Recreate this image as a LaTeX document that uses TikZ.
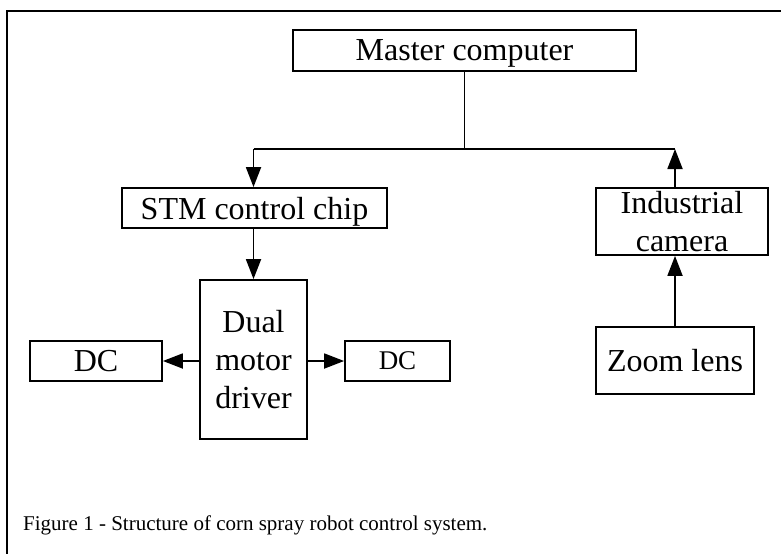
\documentclass[tikz,border=0pt]{standalone}
\usepackage{fontspec}
\setmainfont{Liberation Serif}
\usepackage{tikz}
\usetikzlibrary{positioning,arrows.meta,calc}
\newcommand{\blockarrow}{-{Triangle[length=20pt,width=15pt]}}
\tikzset{
    block/.style={draw,rectangle,line width=1.8pt,inner sep=0pt,text depth=0pt,align=center,
        font=\fontsize{32}{38}\selectfont},
    link/.style={line width=1.8pt},
}

\begin{document}
\begin{tikzpicture}[x=1pt,y=-1pt]
            \useasboundingbox (0,0) rectangle (781,554);
            \coordinate (frameTop) at (781,10.5);
            \coordinate (frameCorner) at (7,10.5);
            \coordinate (frameBottom) at (7,554);
            \draw[line width=2pt] (frameTop) -- (frameCorner) -- (frameBottom);
            \node[block,minimum width=343,minimum height=41] (master) at (464.5,50.5) {Master computer};
            \node[block,minimum width=265,minimum height=40] (stm) at (254.5,208) {STM control chip};
            \node[block,minimum width=107,minimum height=159] (dual) at (253.5,359.5) {Dual\\motor\\driver};
            \node[block,minimum width=132,minimum height=40] (dcl) at (96,361) {DC};
            \node[block,minimum width=105,minimum height=40,font=\fontsize{27}{32}\selectfont] (dcr) at (397.5,361) {DC};
            \node[block,minimum width=172,minimum height=67] (camera) at (682,221.5) {Industrial\\camera};
            \node[block,minimum width=158,minimum height=67] (zoom) at (675,360.5) {Zoom lens};
            \coordinate (junc) at (464.5,149);
            \node[anchor=base west,inner sep=0pt,font=\fontsize{21}{24}\selectfont] (caption) at (23,530)
                {Figure 1 - Structure of corn spray robot control system.};
            \draw[link] (master.south) -- (junc);
            \draw[link] (junc -| dual.north) -- (junc -| zoom.north);
            \draw[link,\blockarrow] (junc -| dual.north) -- (stm.north -| dual.north);
            \draw[link,\blockarrow] (zoom.north |- camera.north) -- (junc -| zoom.north);
            \draw[link,\blockarrow] (stm.south -| dual.north) -- (dual.north);
            \draw[link,\blockarrow] (dual.west |- dcl) -- (dcl.east);
            \draw[link,\blockarrow] (dual.east |- dcr) -- (dcr.west);
            \draw[link,\blockarrow] (zoom.north) -- (zoom.north |- camera.south);
        \end{tikzpicture}
\end{document}
